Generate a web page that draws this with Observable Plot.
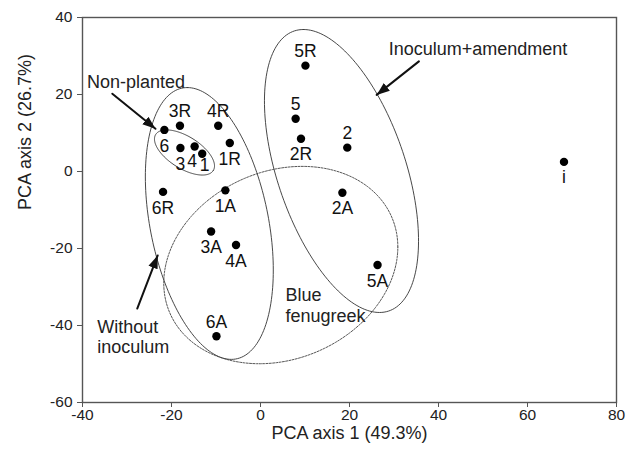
<!DOCTYPE html>
<html>
<head>
<meta charset="utf-8">
<script src="https://cdn.jsdelivr.net/npm/d3@7"></script>
<script src="https://cdn.jsdelivr.net/npm/@observablehq/plot@0.6"></script>
<style>
  html, body { margin: 0; padding: 0; background: #fff; }
  svg { font-family: "Liberation Sans", Arial, sans-serif; }
</style>
</head>
<body>
<script>
// Samples (PCA scores)
const names = ["6","3R","4R","3","4","1","1R","6R","1A","3A","4A","6A","5R","5","2R","2","2A","5A","i"];
const axis1 = [-21.6,-18.1,-9.5,-18.0,-14.8,-13.1,-6.9,-21.9,-7.9,-11.1,-5.5,-9.9,10.1,7.9,9.1,19.5,18.4,26.3,68.2];
const axis2 = [10.8,11.9,11.9,6.1,6.5,4.6,7.4,-5.3,-4.9,-15.6,-19.1,-42.8,27.5,13.7,8.5,6.2,-5.5,-24.3,2.5];
const labelSide = ["below","above","above","below","belowleft","belowright","below","below","below","below","below","above","above","above","below","above","below","below","below"];

// Tick values
const xTicks = [-40,-20,0,20,40,60,80];
const yTicks = [-60,-40,-20,0,20,40];

// Group ellipses (centre and two conjugate half-axes, in data units)
const ellipseNames = ["Non-planted","Without inoculum","Inoculum+amendment","Blue fenugreek"];
const ellipseCX = [-17.08,-11.5,18.2,4.56];
const ellipseCY = [4.94,-13.5,0.13,-24.3];
const ellipseUX = [6.47,-4.94,-8.54,26.3];
const ellipseUY = [-4.68,35.3,36.75,4.68];
const ellipseVX = [-1.91,13.5,15.06,0];
const ellipseVY = [-3.53,0,0,25.2];
const ellipseDashed = [false,false,false,true];

// Annotations
const noteText = ["Non-planted","Inoculum+amendment","Without\ninoculum","Blue\nfenugreek"];
const noteX = [-39.0,28.8,-36.7,5.6];
const noteY = [23.4,32.0,-42.8,-34.7];
const arrowX1 = [-33.3,35.6,-27.7];
const arrowY1 = [20.2,28.6,-35.6];
const arrowX2 = [-23.6,26.1,-23.1];
const arrowY2 = [11.1,19.9,-21.8];

const points = names.map((n, i) => ({name: n, x: axis1[i], y: axis2[i], side: labelSide[i]}));

const ellipsePts = [];
ellipseNames.forEach((g, k) => {
  const N = 180;
  for (let j = 0; j <= N; j++) {
    const t = (j / N) * 2 * Math.PI;
    ellipsePts.push({
      g, dashed: ellipseDashed[k],
      x: ellipseCX[k] + ellipseUX[k] * Math.cos(t) + ellipseVX[k] * Math.sin(t),
      y: ellipseCY[k] + ellipseUY[k] * Math.cos(t) + ellipseVY[k] * Math.sin(t)
    });
  }
});

const arrowSegs = [];
arrowX1.forEach((_, i) => {
  arrowSegs.push({a: i, x: arrowX1[i], y: arrowY1[i]});
  arrowSegs.push({a: i, x: arrowX2[i], y: arrowY2[i]});
});

const notes = noteText.map((t, i) => ({t, x: noteX[i], y: noteY[i]}));

function filledHead(color) {
  return d3.create("svg:marker")
    .attr("viewBox", "-6 -5 12 10")
    .attr("markerWidth", 13)
    .attr("markerHeight", 11)
    .attr("markerUnits", "userSpaceOnUse")
    .attr("refX", 6)
    .attr("refY", 0)
    .attr("orient", "auto")
    .attr("fill", "#111")
    .attr("stroke", "none")
    .call(m => m.append("path").attr("d", "M-6,-4.5L6,0L-6,4.5Z"))
    .node();
}

const font = 17.5;
const fmt = d => String(d);
const lab = (side, dx, dy) => Plot.text(points.filter(d => d.side === side), {x: "x", y: "y", text: "name", dx, dy, fontSize: font, fill: "#111"});
const chart = Plot.plot({
  width: 635,
  height: 466,
  marginLeft: 82,
  marginRight: 19,
  marginTop: 17,
  marginBottom: 64,
  style: {background: "#fff", fontFamily: "Liberation Sans, Arial, sans-serif", color: "#222"},
  x: {domain: [-40, 80], label: null},
  y: {domain: [-60, 40], label: null},
  marks: [
    Plot.line(ellipsePts.filter(d => !d.dashed), {x: "x", y: "y", z: "g", stroke: "#333", strokeWidth: 0.9, curve: "linear"}),
    Plot.line(ellipsePts.filter(d => d.dashed), {x: "x", y: "y", z: "g", stroke: "#444", strokeWidth: 0.9, strokeDasharray: "2,1.3", curve: "linear"}),
    Plot.line(arrowSegs, {x: "x", y: "y", z: "a", stroke: "#111", strokeWidth: 2, markerEnd: filledHead}),
    Plot.dot(points, {x: "x", y: "y", r: 4.2, fill: "#000", stroke: "none"}),
    lab("above", 0, -14),
    lab("below", 0, 16),
    lab("belowleft", -2.5, 15),
    lab("belowright", 2.5, 12),
    Plot.text(notes, {x: "x", y: "y", text: "t", textAnchor: "start", fontSize: 18, lineHeight: 1.12, fill: "#222"}),
    Plot.axisX({ticks: xTicks, tickFormat: fmt, tickSize: 5, tickPadding: 1, fontSize: 15.5, label: null, stroke: "#555"}),
    Plot.axisY({ticks: yTicks, tickFormat: fmt, tickSize: 5, tickPadding: 5, fontSize: 15.5, label: null, stroke: "#555"}),
    Plot.text(["PCA axis 1 (49.3%)"], {frameAnchor: "bottom", dy: 36, fontSize: 18, fill: "#222"}),
    Plot.text(["PCA axis 2 (26.7%)"], {frameAnchor: "left", dx: -57, rotate: -90, fontSize: 18, fill: "#222"}),
    Plot.frame({stroke: "#555", strokeWidth: 1.4})
  ]
});
document.body.appendChild(chart);
</script>
</body>
</html>
